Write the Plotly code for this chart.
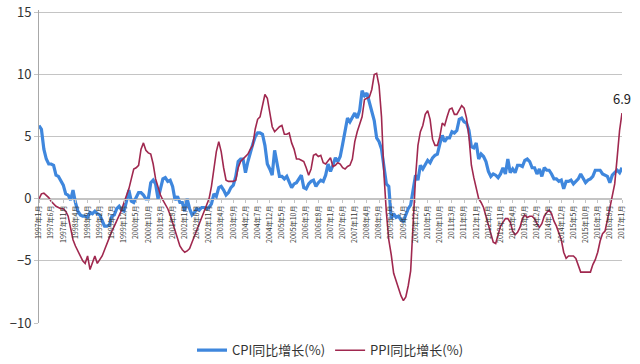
import plotly.graph_objects as go

# Monthly labels Jan 1997 - Jan 2017
months = [f"{y}年{m}月" for y in range(1997, 2018) for m in range(1, 13)][:241]

cpi_1997_2001 = [5.9, 5.6, 4.0, 3.2, 2.8, 2.8, 2.7, 1.9, 1.8, 1.5, 1.1, 0.4,
                 0.3, -0.1, 0.7, -0.3, -1.0, -1.3, -1.4, -1.4, -1.5, -1.1, -1.2, -1.0,
                 -1.2, -1.3, -1.8, -2.2, -2.2, -2.1, -1.4, -1.3, -0.8, -0.6, -0.9, -1.0,
                 -0.2, 0.7, -0.2, -0.3, 0.1, 0.5, 0.5, 0.3, 0.0, 0.0, 1.3, 1.5,
                 1.2, 0.0, 0.8, 1.6, 1.7, 1.4, 1.5, 1.0, -0.1, 0.2, -0.3, -0.3]
cpi_2002_2006 = [-1.0, 0.0, -0.8, -1.3, -1.1, -0.8, -0.9, -0.7, -0.7, -0.8, -0.7, -0.4,
                 0.4, 0.2, 0.9, 1.0, 0.7, 0.3, 0.5, 0.9, 1.1, 1.8, 3.0, 3.2,
                 3.2, 2.1, 3.0, 3.8, 4.4, 5.0, 5.3, 5.3, 5.2, 4.3, 2.8, 2.4,
                 1.9, 3.9, 2.7, 1.8, 1.8, 1.6, 1.8, 1.3, 0.9, 1.2, 1.3, 1.6,
                 1.9, 0.9, 0.8, 1.2, 1.4, 1.5, 1.0, 1.3, 1.5, 1.4, 1.9, 2.8]
cpi_2007_2011 = [2.2, 2.7, 3.3, 3.0, 3.4, 4.4, 5.6, 6.5, 6.2, 6.5, 6.9, 6.5,
                 7.1, 8.7, 8.3, 8.5, 7.7, 7.1, 6.3, 4.9, 4.6, 4.0, 2.4, 1.2,
                 1.0, -1.6, -1.2, -1.5, -1.4, -1.7, -1.8, -1.2, -0.8, -0.5, 0.6, 1.9,
                 1.5, 2.7, 2.4, 2.8, 3.1, 2.9, 3.3, 3.5, 3.6, 4.4, 5.1, 4.6,
                 4.9, 4.9, 5.4, 5.3, 5.5, 6.4, 6.5, 6.2, 6.1, 5.5, 4.2, 4.1]
cpi_2012_2017 = [4.5, 3.2, 3.6, 3.4, 3.0, 2.2, 1.8, 2.0, 1.9, 1.7, 2.0, 2.5,
                 2.0, 3.2, 2.1, 2.4, 2.1, 2.7, 2.7, 2.6, 3.1, 3.2, 3.0, 2.5,
                 2.5, 2.0, 2.4, 1.8, 2.5, 2.3, 2.3, 2.0, 1.6, 1.6, 1.4, 1.5,
                 0.8, 1.4, 1.4, 1.5, 1.2, 1.4, 1.6, 2.0, 1.6, 1.3, 1.5, 1.6,
                 1.8, 2.3, 2.3, 2.3, 2.0, 1.9, 1.8, 1.3, 1.9, 2.1, 2.3, 2.1,
                 2.5]

ppi_1997_2001 = [0.0, 0.4, 0.45, 0.3, 0.1, -0.2, -0.4, -0.6, -0.7, -0.8, -0.8, -1.0,
                 -1.4, -2.4, -3.3, -3.8, -4.2, -4.7, -5.0, -5.2, -4.6, -5.7, -5.1, -4.6,
                 -5.2, -4.9, -4.6, -4.1, -3.6, -3.0, -2.6, -2.2, -1.8, -1.3, -0.9, -0.3,
                 0.3, 0.8, 1.6, 2.4, 2.5, 2.7, 4.0, 4.5, 3.9, 3.7, 3.6, 2.8,
                 1.6, 0.9, 0.3, -0.1, -0.4, -0.8, -1.3, -1.9, -2.5, -3.2, -3.8, -4.1]
ppi_2002_2006 = [-4.3, -4.2, -4.0, -3.5, -3.0, -2.5, -2.0, -1.5, -1.0, -0.5, 0.0, 1.0,
                 2.6, 3.8, 4.6, 3.8, 2.5, 1.5, 1.4, 1.4, 1.4, 1.5, 2.5, 3.0,
                 3.2, 3.4, 3.6, 4.0, 4.3, 5.6, 6.4, 6.6, 7.4, 8.4, 8.1, 7.1,
                 5.8, 5.4, 5.6, 5.8, 5.9, 5.2, 5.2, 5.3, 4.5, 4.0, 3.2, 3.2,
                 3.1, 3.0, 2.5, 1.9, 2.4, 3.5, 3.6, 3.4, 3.5, 2.9, 2.8, 3.1]
ppi_2007_2011 = [3.3, 2.6, 2.7, 2.9, 2.8, 2.5, 2.4, 2.6, 2.7, 3.2, 4.6, 5.4,
                 6.1, 6.6, 8.0, 8.1, 8.2, 8.8, 10.0, 10.1, 9.1, 6.6, 2.0, -1.1,
                 -3.3, -4.5, -6.0, -6.6, -7.2, -7.8, -8.2, -7.9, -7.0, -5.8, -2.1, 1.7,
                 4.3, 5.4, 5.9, 6.8, 7.1, 6.4, 4.8, 4.3, 4.3, 5.0, 6.1, 5.9,
                 6.6, 7.2, 7.3, 6.8, 6.8, 7.1, 7.5, 7.3, 6.5, 5.0, 2.7, 1.7]
ppi_2012_2017 = [0.7, 0.0, -0.3, -0.7, -1.4, -2.1, -2.9, -3.5, -3.6, -2.8, -2.2, -1.9,
                 -1.6, -1.6, -1.9, -2.6, -2.9, -2.7, -2.3, -1.6, -1.3, -1.5, -1.4, -1.4,
                 -1.6, -2.0, -2.3, -2.0, -1.4, -1.1, -0.9, -1.2, -1.8, -2.2, -2.7, -3.3,
                 -4.3, -4.8, -4.6, -4.6, -4.6, -4.8, -5.4, -5.9, -5.9, -5.9, -5.9, -5.9,
                 -5.3, -4.9, -4.3, -3.4, -2.8, -2.6, -1.7, -0.8, 0.1, 1.2, 3.3, 5.5,
                 6.9]

cpi = cpi_1997_2001 + cpi_2002_2006 + cpi_2007_2011 + cpi_2012_2017
ppi = ppi_1997_2001 + ppi_2002_2006 + ppi_2007_2011 + ppi_2012_2017

y_ticks = [-10, -5, 0, 5, 10, 15]
x_ticks = months[::5]

FONT = "Noto Sans CJK SC, Noto Sans, sans-serif"
GRID = "#c4c4c4"

fig = go.Figure()
fig.add_trace(go.Scatter(x=months, y=cpi, mode="lines", name="CPI同比增长(%)",
                         line=dict(color="#3f87dd", width=3.2)))
fig.add_trace(go.Scatter(x=months, y=ppi, mode="lines", name="PPI同比增长(%)",
                         line=dict(color="#a0284f", width=1.6)))

fig.add_annotation(x=months[-1], y=ppi[-1], text=f"{ppi[-1]}", showarrow=False,
                   yshift=15, xanchor="center", font=dict(size=13, color="#222", family=FONT))

Y_TOP = 15.2  # a little headroom so the 15 gridline is not clipped at the plot edge
fig.update_layout(
    width=640, height=364,
    margin=dict(l=39, r=18, t=10, b=41, autoexpand=False),
    paper_bgcolor="white", plot_bgcolor="white",
    font=dict(family=FONT, color="#333"),
    showlegend=True,
    legend=dict(orientation="h", x=0.5, xanchor="center", y=-0.087, yanchor="middle",
                font=dict(size=13, color="#333"), itemwidth=30, traceorder="normal"),
    xaxis=dict(type="category", range=[0, 240], tickmode="array",
               tickvals=x_ticks, ticktext=x_ticks, tickangle=-90,
               tickfont=dict(size=7, color="#333"), showgrid=False,
               showline=True, linecolor=GRID, linewidth=1,
               ticks="outside", ticklen=3, tickcolor=GRID, automargin=False,
               anchor="free", position=10 / (Y_TOP + 10), zeroline=False),
    yaxis=dict(range=[-10, Y_TOP], tickvals=y_ticks, showgrid=True, gridcolor=GRID,
               gridwidth=1, zeroline=False, showline=True, linecolor="#a8a8a8",
               ticks="outside", ticklen=4, tickcolor=GRID, automargin=False,
               tickfont=dict(size=13, color="#333"), domain=[0, 1]),
)

# remove the browser's default 8px body margin so the figure sits at the page origin
fig.write_html("out.html", config={"displayModeBar": False},
               post_script="document.body.style.margin='0';document.body.style.overflow='hidden';")
